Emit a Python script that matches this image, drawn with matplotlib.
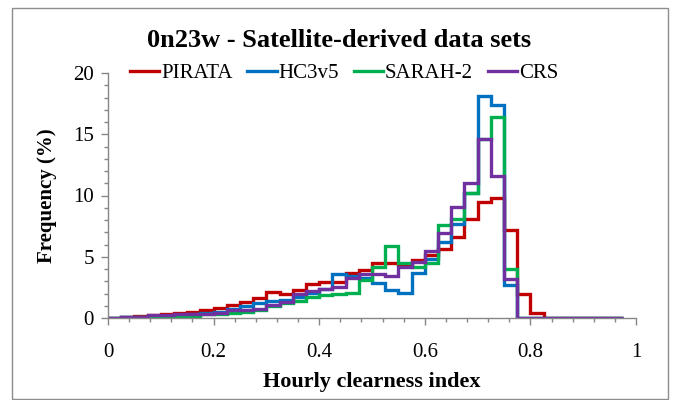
import numpy as np
import matplotlib
matplotlib.use("Agg")
import matplotlib.pyplot as plt
from matplotlib.patches import Rectangle
from matplotlib.ticker import MultipleLocator

bin_width = 0.025
series_names = ["PIRATA", "HC3v5", "SARAH-2", "CRS"]
colors = ["#C00000", "#0070C0", "#00B050", "#7030A0"]

pirata = [0, 0.05, 0.15, 0.25, 0.35, 0.4, 0.5, 0.65, 0.84, 1.06,
          1.33, 1.6, 2.1, 2.0, 2.3, 2.75, 2.9, 2.9, 3.7, 3.9,
          4.46, 4.46, 4.4, 4.7, 5.14, 5.6, 6.6, 8.05, 9.5, 9.8,
          7.2, 2.0, 0.4, 0, 0, 0, 0, 0, 0]
hc3v5 = [0, 0.05, 0.1, 0.15, 0.2, 0.25, 0.3, 0.4, 0.5, 0.7,
         0.98, 1.25, 1.35, 1.47, 1.74, 2.07, 2.34, 3.6, 3.45, 3.24,
         2.83, 2.3, 2.07, 3.65, 4.8, 6.2, 7.7, 10.2, 18.15, 17.4,
         2.7, 0, 0, 0, 0, 0, 0, 0, 0]
sarah2 = [0, 0.05, 0.1, 0.1, 0.12, 0.15, 0.2, 0.3, 0.35, 0.44,
          0.52, 0.65, 0.98, 1.2, 1.41, 1.74, 1.88, 1.96, 2.07, 3.1,
          4.2, 5.9, 4.46, 4.2, 4.46, 7.6, 8.1, 10.2, 14.6, 16.4,
          3.97, 0, 0, 0, 0, 0, 0, 0, 0]
crs = [0, 0.05, 0.05, 0.25, 0.25, 0.3, 0.3, 0.33, 0.43, 0.65,
       0.65, 0.75, 1.06, 1.33, 1.96, 2.2, 2.34, 2.56, 3.24, 3.6,
       3.6, 3.45, 4.2, 4.6, 5.45, 6.9, 9.1, 11.0, 14.6, 11.6,
       3.2, 0, 0, 0, 0, 0, 0, 0, 0]

all_series = [pirata, hc3v5, sarah2, crs]

plt.rcParams['font.family'] = ['Liberation Serif', 'DejaVu Serif']

fig = plt.figure(figsize=(6.75, 4.0), dpi=100)
ax = fig.add_axes([108/675, 82/400, 528/675, 245/400])

edges = np.arange(len(pirata) + 1) * bin_width
for vals, c, name in zip(all_series, colors, series_names):
    ax.stairs(vals, edges, color=c, linewidth=2.4, label=name, baseline=0)

ax.set_xlim(0, 1)
ax.set_ylim(0, 20)
ax.xaxis.set_major_locator(MultipleLocator(0.2))
ax.xaxis.set_minor_locator(MultipleLocator(0.04))
ax.yaxis.set_major_locator(MultipleLocator(5))
ax.yaxis.set_minor_locator(MultipleLocator(1))
ax.set_xticks([0, 0.2, 0.4, 0.6, 0.8, 1.0])
ax.set_xticklabels(["0", "0.2", "0.4", "0.6", "0.8", "1"])

for s in ["top", "right"]:
    ax.spines[s].set_visible(False)
for s in ["left", "bottom"]:
    ax.spines[s].set_color("#868686")
    ax.spines[s].set_linewidth(1)
ax.tick_params(which="major", direction="out", length=5, color="#868686",
               labelsize=15, width=1)
ax.tick_params(which="minor", direction="out", length=3, color="#868686", width=1)
ax.tick_params(axis="x", which="major", pad=13)
ax.tick_params(axis="y", which="major", pad=5)

ax.set_xlabel("Hourly clearness index", fontsize=16, fontweight="bold", labelpad=7)
ax.set_ylabel("Frequency (%)", fontsize=15, fontweight="bold", labelpad=12)
fig.text(0.503, 0.898, "0n23w - Satellite-derived data sets", ha="center",
         va="center", fontsize=19, fontweight="bold")

leg = ax.legend(loc="center", bbox_to_anchor=(0.447, 1.0), ncol=4, frameon=False,
                fontsize=15, handlelength=1.4, columnspacing=0.7, handletextpad=0.1)

fig.patches.append(Rectangle((12/675, 1/400), 656/675, 391/400, transform=fig.transFigure,
                             fill=False, edgecolor="#8c8c8c", linewidth=1))

fig.savefig("out.png", dpi=100)
